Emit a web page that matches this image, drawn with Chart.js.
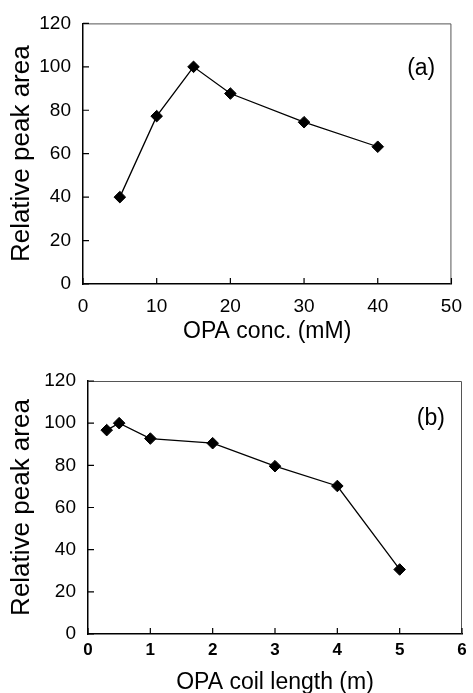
<!DOCTYPE html>
<html>
<head>
    <title>OPA conditions</title>
    <script src="https://cdn.jsdelivr.net/npm/chart.js"></script>
    <style>
        body {
            margin: 0;
            background: white;
            font-family: 'Liberation Sans', Arial, sans-serif;
        }
        canvas {
            position: absolute;
            left: 0;
        }
        #chartA { top: 0; }
        #chartB { top: 345px; }
    </style>
</head>
<body>
    <canvas id="chartA" width="473" height="345"></canvas>
    <canvas id="chartB" width="473" height="348"></canvas>
    <script>
        // panel (a): OPA concentration
        const concA = [5, 10, 15, 20, 30, 40];
        const areaA = [40, 77.3, 100, 87.7, 74.5, 63.2];
        const xTicksA = [0, 10, 20, 30, 40, 50];

        // panel (b): OPA coil length
        const coilB = [0.3, 0.5, 1, 2, 3, 4, 5];
        const areaB = [96.7, 100, 92.7, 90.5, 79.6, 70.2, 30.6];
        const xTicksB = [0, 1, 2, 3, 4, 5, 6];

        const yTicks = [0, 20, 40, 60, 80, 100, 120];

        const FONT = "'Liberation Sans', Arial, sans-serif";

        // inward tick marks, thin frame and the panel letter
        const framePlugin = {
            id: 'frame',
            afterDraw(chart, args, opts) {
                const ctx = chart.ctx;
                const a = chart.chartArea;
                const xs = chart.scales.x, ys = chart.scales.y;
                ctx.save();
                ctx.strokeStyle = '#555';
                ctx.lineWidth = 1;
                ctx.beginPath();
                ctx.moveTo(a.left, a.top + 0.5);
                ctx.lineTo(a.right - 0.5, a.top + 0.5);
                ctx.lineTo(a.right - 0.5, a.bottom);
                ctx.stroke();

                ctx.strokeStyle = '#000';
                ctx.lineWidth = 1.2;
                ctx.beginPath();
                xs.ticks.forEach(t => {
                    const px = xs.getPixelForValue(t.value);
                    ctx.moveTo(px, a.bottom);
                    ctx.lineTo(px, a.bottom - 6);
                });
                ys.ticks.forEach(t => {
                    const py = ys.getPixelForValue(t.value);
                    ctx.moveTo(a.left, py);
                    ctx.lineTo(a.left + 6, py);
                });
                ctx.stroke();

                ctx.fillStyle = '#000';
                ctx.font = '23px ' + FONT;
                ctx.textAlign = 'center';
                ctx.textBaseline = 'middle';
                ctx.fillText(opts.label, xs.getPixelForValue(opts.at[0]), ys.getPixelForValue(opts.at[1]));
                ctx.restore();
            }
        };

        function makeChart(id, xs, ys, xTicks, xMax, opt) {
            const pts = xs.map((x, i) => ({ x: x, y: ys[i] }));
            return new Chart(document.getElementById(id), {
                type: 'scatter',
                data: {
                    datasets: [{
                        data: pts,
                        showLine: true,
                        borderColor: '#000',
                        borderWidth: 1.3,
                        pointStyle: 'rectRot',
                        pointRadius: 5.8,
                        pointBackgroundColor: '#000',
                        pointBorderColor: '#000',
                        pointBorderWidth: 1
                    }]
                },
                options: {
                    responsive: false,
                    animation: false,
                    layout: { padding: opt.padding },
                    plugins: {
                        legend: { display: false },
                        tooltip: { enabled: false },
                        frame: { label: opt.label, at: opt.labelAt }
                    },
                    scales: {
                        x: {
                            type: 'linear',
                            min: 0,
                            max: xMax,
                            afterBuildTicks: s => { s.ticks = xTicks.map(v => ({ value: v })); },
                            afterFit: s => { s.height = opt.xHeight; },
                            grid: { display: false, drawTicks: false },
                            border: { display: true, color: '#000', width: 1.5 },
                            ticks: {
                                color: '#000',
                                padding: opt.xTickPad,
                                maxRotation: 0,
                                font: opt.xTickFont
                            },
                            title: {
                                display: true,
                                text: opt.xTitle,
                                color: '#000',
                                font: { family: FONT, size: 23 },
                                padding: { top: 0, bottom: opt.xTitlePad }
                            }
                        },
                        y: {
                            min: 0,
                            max: 120,
                            afterBuildTicks: s => { s.ticks = yTicks.map(v => ({ value: v })); },
                            afterFit: s => { s.width = opt.yWidth; },
                            grid: { display: false, drawTicks: false },
                            border: { display: true, color: '#000', width: 1.5 },
                            ticks: {
                                color: '#000',
                                padding: 12,
                                font: { family: FONT, size: 19 }
                            },
                            title: {
                                display: true,
                                text: 'Relative peak area',
                                color: '#000',
                                font: { family: FONT, size: 26 },
                                padding: { top: 6, bottom: 0 }
                            }
                        }
                    }
                },
                plugins: [framePlugin]
            });
        }

        makeChart('chartA', concA, areaA, xTicksA, 50, {
            padding: { top: 20, right: 13, left: 0, bottom: 0 },
            xHeight: 61,
            yWidth: 83,
            xTickPad: 11,
            xTickFont: { family: FONT, size: 19 },
            xTitle: 'OPA conc. (mM)',
            xTitlePad: 0,
            label: '(a)',
            labelAt: [45.9, 99]
        });

        makeChart('chartB', coilB, areaB, xTicksB, 6, {
            padding: { top: 36, right: 11, left: 0, bottom: 0 },
            xHeight: 59,
            yWidth: 88,
            xTickPad: 6,
            xTickFont: { family: FONT, size: 17, weight: 'bold' },
            xTitle: 'OPA coil length (m)',
            xTitlePad: -3,
            label: '(b)',
            labelAt: [5.5, 102]
        });
    </script>
</body>
</html>
